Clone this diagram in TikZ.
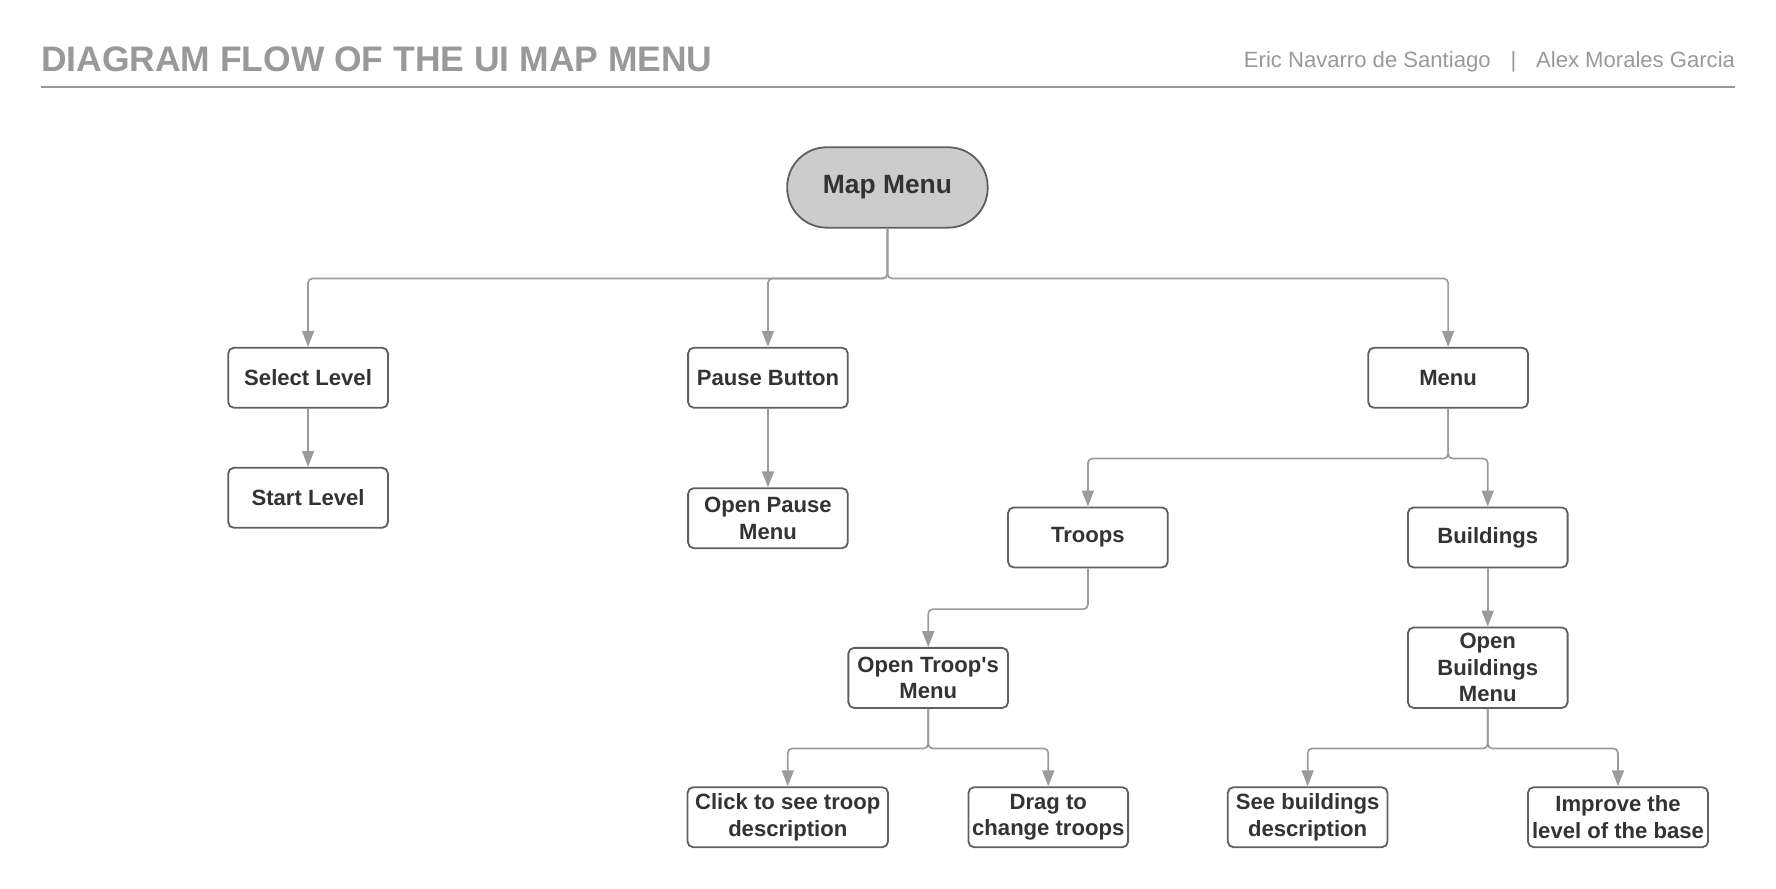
\documentclass[tikz,border=0pt]{standalone}
\usepackage{fontspec}
\newfontfamily\lsans{Liberation Sans}
\usetikzlibrary{arrows.meta}
\definecolor{linec}{HTML}{9B9B9B}
\definecolor{boxc}{HTML}{5F5F5F}
\definecolor{txtc}{HTML}{333333}
\definecolor{fillc}{HTML}{CCCCCC}
\definecolor{titlec}{HTML}{999999}
\begin{document}
\begin{tikzpicture}[x=1pt,y=-1pt,
  box/.style={draw=boxc, line width=1.6pt, rounded corners=5pt, fill=white, text=txtc,
    font=\lsans\fontsize{19.5}{23.5}\selectfont\bfseries, align=center, inner sep=0pt,
    minimum width=141pt, minimum height=53pt},
  startbox/.style={box, fill=fillc, rounded corners=35pt, minimum width=177pt, minimum height=71pt,
    font=\lsans\fontsize{23.3}{27}\selectfont\bfseries},
  conn/.style={draw=linec, line width=1.5pt, rounded corners=4pt, -{Triangle[width=10.5pt,length=14pt]}}
]
\useasboundingbox (0,0) rectangle (1568,784);
% header
\node[anchor=base west, inner sep=0pt, text=titlec, font=\lsans\fontsize{31.3}{36}\selectfont\bfseries] (title) at (36,63) {DIAGRAM FLOW OF THE UI MAP MENU};
\node[anchor=base east, inner sep=0pt, text=titlec, font=\lsans\fontsize{19.5}{23}\selectfont] (authors) at (1532,60) {Eric Navarro de Santiago\hspace{0.9em}|\hspace{0.9em}Alex Morales Garcia};
\coordinate (ulA) at (36,77);
\coordinate (ulB) at (1532,77);
\draw[draw=titlec, line width=1.8pt] (ulA) -- (ulB);
% nodes
\node[startbox] (mm) at (783.5,165.5) {Map Menu};
\node[box] (sl) at (272,333.5) {Select Level};
\node[box] (stl) at (272,439.5) {Start Level};
\node[box] (pb) at (678,333.5) {Pause Button};
\node[box] (opm) at (678,457.5) {Open Pause\\Menu};
\node[box] (menu) at (1278.5,333.5) {Menu};
\node[box] (tr) at (960.5,474.5) {Troops};
\node[box] (bd) at (1313.5,474.5) {Buildings};
\node[box] (otm) at (819.5,598.5) {Open Troop\char"0027 s\\Menu};
\node[box, minimum height=71pt] (obm) at (1313.5,589.5) {Open\\Buildings\\Menu};
\node[box, minimum width=177pt] (click) at (695.5,721.5) {Click to see troop\\description};
\node[box] (drag) at (925.5,721.5) {Drag to\\change troops};
\node[box] (seeb) at (1154.5,721.5) {See buildings\\description};
\node[box, minimum width=159pt] (imp) at (1428.5,721.5) {Improve the\\level of the base};
% connectors
\draw[conn] (mm.south) -- ++(0,44) -| (sl.north);
\draw[conn] (mm.south) -- ++(0,44) -| (pb.north);
\draw[conn] (mm.south) -- ++(0,44) -| (menu.north);
\draw[conn] (sl) -- (stl);
\draw[conn] (pb) -- (opm);
\draw[conn] (menu.south) -- ++(0,44) -| (tr.north);
\draw[conn] (menu.south) -- ++(0,44) -| (bd.north);
\draw[conn] (tr.south) -- ++(0,36) -| (otm.north);
\draw[conn] (bd) -- (obm);
\draw[conn] (otm.south) -- ++(0,35) -| (click.north);
\draw[conn] (otm.south) -- ++(0,35) -| (drag.north);
\draw[conn] (obm.south) -- ++(0,35) -| (seeb.north);
\draw[conn] (obm.south) -- ++(0,35) -| (imp.north);
\end{tikzpicture}
\end{document}
